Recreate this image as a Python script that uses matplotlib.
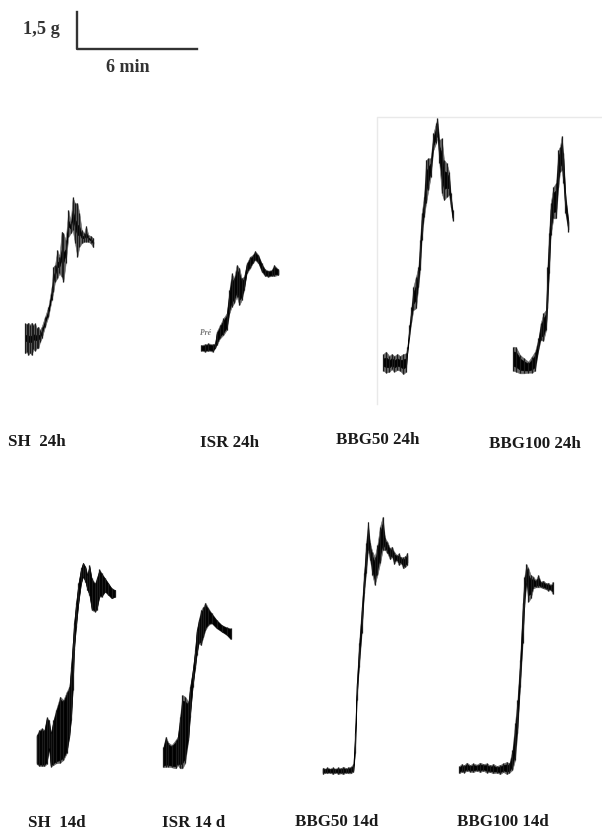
import numpy as np
import matplotlib
matplotlib.use('Agg')
from matplotlib import pyplot as plt

plt.rc('font', family=['Liberation Serif', 'DejaVu Serif'], weight='bold')

# force traces: time, upper edge, lower edge
sh24_t = [75, 80, 85, 90, 95, 100, 105, 110, 115, 120, 125, 135, 145, 155, 160, 165, 172, 178, 185, 190, 197, 205, 212, 218, 225, 232, 238, 245, 252, 258, 265, 272, 280]
sh24_hi = [670, 672, 668, 674, 668, 675, 670, 684, 680, 690, 680, 650, 620, 560, 500, 495, 450, 470, 395, 400, 420, 330, 365, 292, 310, 310, 340, 390, 400, 378, 405, 408, 415]
sh24_lo = [760, 755, 765, 758, 765, 748, 752, 745, 745, 725, 715, 680, 650, 600, 575, 545, 535, 520, 530, 545, 490, 410, 400, 390, 430, 470, 440, 430, 425, 425, 425, 430, 442]

isr24_t = [603, 615, 625, 638, 645, 650, 660, 670, 680, 688, 695, 702, 710, 718, 725, 732, 740, 750, 758, 765, 775, 785, 795, 805, 815, 822, 835]
isr24_hi = [735, 733, 730, 733, 730, 695, 675, 655, 640, 570, 520, 535, 495, 505, 535, 530, 490, 470, 465, 453, 465, 490, 508, 512, 510, 495, 508]
isr24_lo = [752, 755, 752, 755, 745, 735, 715, 705, 690, 640, 620, 610, 590, 615, 600, 570, 520, 505, 490, 480, 490, 515, 528, 530, 528, 528, 525]

bbg50_24_t = [250, 258, 268, 275, 283, 292, 300, 310, 318, 322, 328, 334, 340, 348, 355, 360, 365, 372, 378, 385, 392, 400, 408, 412, 418, 425, 432, 440, 447, 452, 458]
bbg50_24_hi = [762, 755, 768, 762, 768, 762, 768, 762, 760, 740, 675, 620, 560, 530, 500, 420, 340, 290, 180, 175, 175, 100, 70, 55, 120, 115, 180, 190, 215, 280, 330]
bbg50_24_lo = [812, 818, 815, 808, 815, 810, 812, 822, 815, 760, 710, 665, 630, 625, 560, 510, 420, 350, 310, 270, 230, 150, 130, 110, 190, 280, 300, 290, 285, 320, 362]

bbg100_24_t = [640, 648, 660, 672, 685, 695, 705, 715, 722, 730, 738, 742, 747, 752, 760, 768, 775, 780, 785, 790, 796, 805]
bbg100_24_hi = [740, 742, 765, 775, 785, 770, 755, 715, 670, 640, 630, 500, 400, 310, 260, 250, 150, 140, 108, 160, 280, 360]
bbg100_24_lo = [812, 815, 820, 820, 818, 818, 812, 750, 720, 722, 690, 625, 520, 405, 355, 355, 260, 215, 210, 250, 340, 395]

sh14_t = [110, 118, 125, 133, 140, 147, 152, 160, 168, 180, 190, 200, 208, 213, 218, 222, 228, 235, 243, 249, 256, 262, 268, 275, 285, 290, 298, 305, 315, 325, 335, 345]
sh14_hi = [585, 570, 565, 570, 532, 540, 580, 540, 510, 470, 480, 455, 440, 380, 310, 250, 190, 130, 85, 68, 80, 105, 75, 115, 130, 115, 88, 100, 115, 130, 145, 150]
sh14_lo = [672, 678, 678, 678, 672, 625, 680, 675, 670, 668, 660, 640, 590, 540, 450, 330, 260, 190, 130, 110, 125, 150, 165, 210, 215, 210, 170, 170, 155, 165, 175, 170]

isr14_t = [490, 497, 505, 515, 527, 533, 540, 547, 555, 565, 570, 578, 585, 590, 596, 603, 610, 616, 625, 635, 650, 665, 680, 692]
isr14_hi = [620, 590, 608, 615, 600, 590, 530, 465, 470, 485, 440, 390, 330, 270, 240, 210, 200, 188, 205, 220, 240, 255, 262, 265]
isr14_lo = [682, 680, 680, 682, 685, 675, 685, 685, 670, 600, 530, 440, 385, 345, 310, 315, 290, 270, 255, 250, 265, 275, 285, 298]

bbg50_14_t = [68, 75, 82, 90, 98, 106, 115, 122, 130, 138, 145, 152, 160, 165, 170, 177, 185, 192, 198, 204, 210, 217, 224, 232, 240, 248, 255, 262, 270, 276, 282, 290, 296, 303, 310, 316, 322]
bbg50_14_hi = [803, 806, 802, 806, 802, 806, 802, 805, 800, 805, 802, 800, 793, 700, 550, 430, 320, 220, 130, 65, 130, 155, 170, 135, 80, 50, 115, 125, 145, 140, 155, 165, 160, 172, 172, 168, 158]
bbg50_14_lo = [822, 818, 820, 818, 822, 818, 822, 820, 822, 818, 820, 820, 815, 760, 600, 500, 400, 280, 220, 150, 180, 225, 255, 225, 190, 150, 150, 160, 178, 170, 192, 180, 195, 190, 205, 200, 195]

bbg100_14_t = [478, 485, 492, 500, 510, 520, 530, 540, 550, 560, 570, 580, 590, 600, 610, 620, 628, 637, 645, 652, 660, 668, 673, 679, 685, 692, 700, 707, 715, 722, 730, 738, 745, 752, 758]
bbg100_14_hi = [798, 792, 796, 788, 795, 790, 794, 788, 792, 790, 796, 792, 798, 795, 790, 786, 790, 750, 670, 600, 480, 310, 230, 192, 205, 225, 230, 240, 225, 245, 242, 250, 248, 255, 245]
bbg100_14_lo = [820, 815, 818, 812, 815, 816, 812, 816, 812, 818, 816, 820, 818, 822, 816, 822, 818, 810, 780, 700, 560, 430, 320, 250, 305, 295, 265, 262, 262, 262, 265, 268, 272, 270, 282]

labels = ['SH  24h', 'ISR 24h', 'BBG50 24h', 'BBG100 24h', 'SH  14d', 'ISR 14 d', 'BBG50 14d', 'BBG100 14d']


def trace(t, hi, lo, x0, y0, core):
    t = x0 + np.array(t) / 3
    hi = y0 + np.array(hi) / 3
    lo = y0 + np.array(lo) / 3
    mid = (hi + lo) / 2
    half = (lo - hi) / 2 * core
    plt.fill_between(t, hi, lo, color='#6a6a6a', lw=0.4)
    plt.fill_between(t, mid - half, mid + half, color='black', lw=0.5)
    # each swing of the pen
    plt.vlines(t, hi, lo, color='#1c1c1c', lw=0.9)


plt.figure(figsize=(6.02, 8.30), dpi=100)
ax = plt.axes([0, 0, 1, 1])
ax.set_xlim(0, 602)
ax.set_ylim(830, 0)
ax.axis('off')

# faint frame left around the BBG50 24h image
ax.plot([602, 377, 377], [117, 117, 404], color='#e9e9e9', lw=1)

trace(sh24_t, sh24_hi, sh24_lo, 0, 100, 0.2)
trace(isr24_t, isr24_hi, isr24_lo, 0, 100, 0.7)
trace(bbg50_24_t, bbg50_24_hi, bbg50_24_lo, 300, 100, 0.45)
trace(bbg100_24_t, bbg100_24_hi, bbg100_24_lo, 300, 100, 0.6)
trace(sh14_t, sh14_hi, sh14_lo, 0, 540, 0.92)
trace(isr14_t, isr14_hi, isr14_lo, 0, 540, 0.85)
trace(bbg50_14_t, bbg50_14_hi, bbg50_14_lo, 300, 500, 0.6)
trace(bbg100_14_t, bbg100_14_hi, bbg100_14_lo, 300, 500, 0.6)

# scale bar
ax.plot([77, 77, 197], [12, 49, 49], color='#333333', lw=1.7, solid_joinstyle='round')
ax.text(23, 29, '1,5 g', fontsize=13.2, color='#333333', va='center')
ax.text(106, 68, '6 min', fontsize=13, color='#333333', va='center')

ax.text(200, 333, 'Pré', fontsize=5.5, style='italic', color='#777777', va='center')

label_x = [8, 200, 336, 489, 28, 162, 295, 457]
label_y = [442, 443, 440, 444, 823, 823, 822, 822]
for s, x, y in zip(labels, label_x, label_y):
    ax.text(x, y, s, fontsize=12.2, color='#1a1a1a', va='center')

plt.savefig('out.png', dpi=100)
